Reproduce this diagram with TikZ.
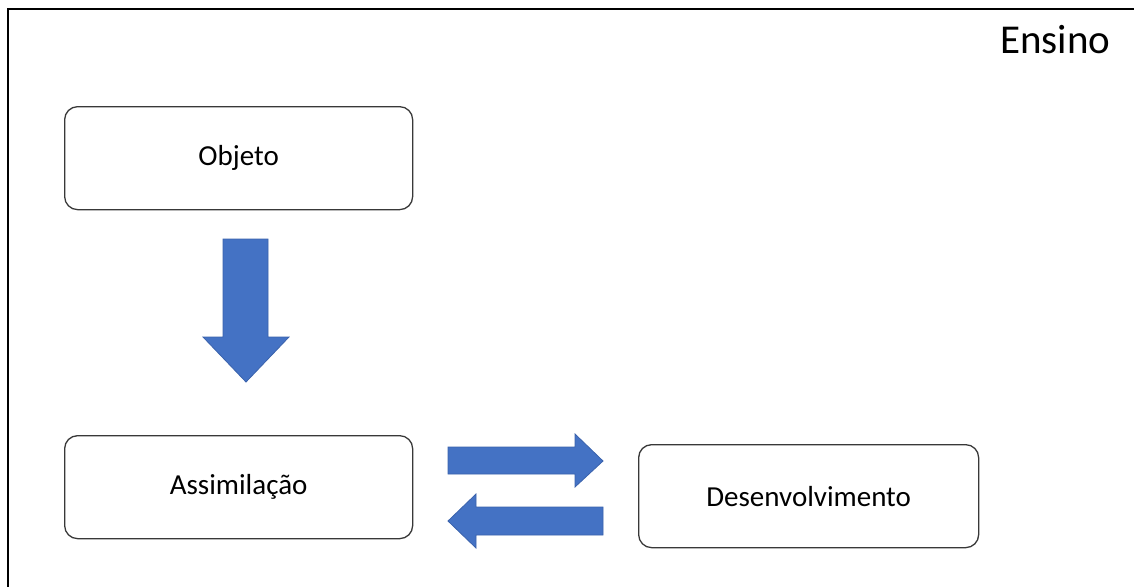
\documentclass[tikz,border=0pt]{standalone}
\usepackage{fontspec}
\setmainfont{Carlito}
\begin{document}
\begin{tikzpicture}[x=1pt,y=-1pt,
  box/.style={draw=black!78,line width=1.3pt,rounded corners=13pt,fill=white,
    minimum width=348pt,minimum height=103pt,inner sep=0pt,anchor=north west,
    font=\fontsize{29}{34}\selectfont},
  blockarrow/.style={fill=arrowblue,draw=arrowedge,line width=0.8pt,line join=miter},
  frame/.style={draw=black,line width=2.6pt}]
\definecolor{arrowblue}{HTML}{4472C4}
\definecolor{arrowedge}{HTML}{3A62AC}
\useasboundingbox (0,0) rectangle (1134,586);
\fill[white] (0,0) rectangle (1134,586);
\draw[frame] (8,600) -- (8,9) -- (1140,9);
\node[anchor=base east,font=\fontsize{41}{48}\selectfont] (ensino) at (1114,53) {Ensino};
\node[box] (objeto) at (64,106) {Objeto};
\node[box] (assim) at (64,435) {Assimilação};
\node[box,minimum width=340pt] (desenv) at (638,444) {Desenvolvimento};
% down arrow
\filldraw[blockarrow] (223,239) -- (268,239) -- (268,337) -- (289,337) -- (246,382)
  -- (203,337) -- (223,337) -- cycle;
% right arrow
\filldraw[blockarrow] (448,447) -- (575,447) -- (575,434) -- (603,461) -- (575,487)
  -- (575,474) -- (448,474) -- cycle;
% left arrow
\filldraw[blockarrow] (603,507) -- (476,507) -- (476,494) -- (448,521) -- (476,548)
  -- (476,535) -- (603,535) -- cycle;
\end{tikzpicture}
\end{document}
